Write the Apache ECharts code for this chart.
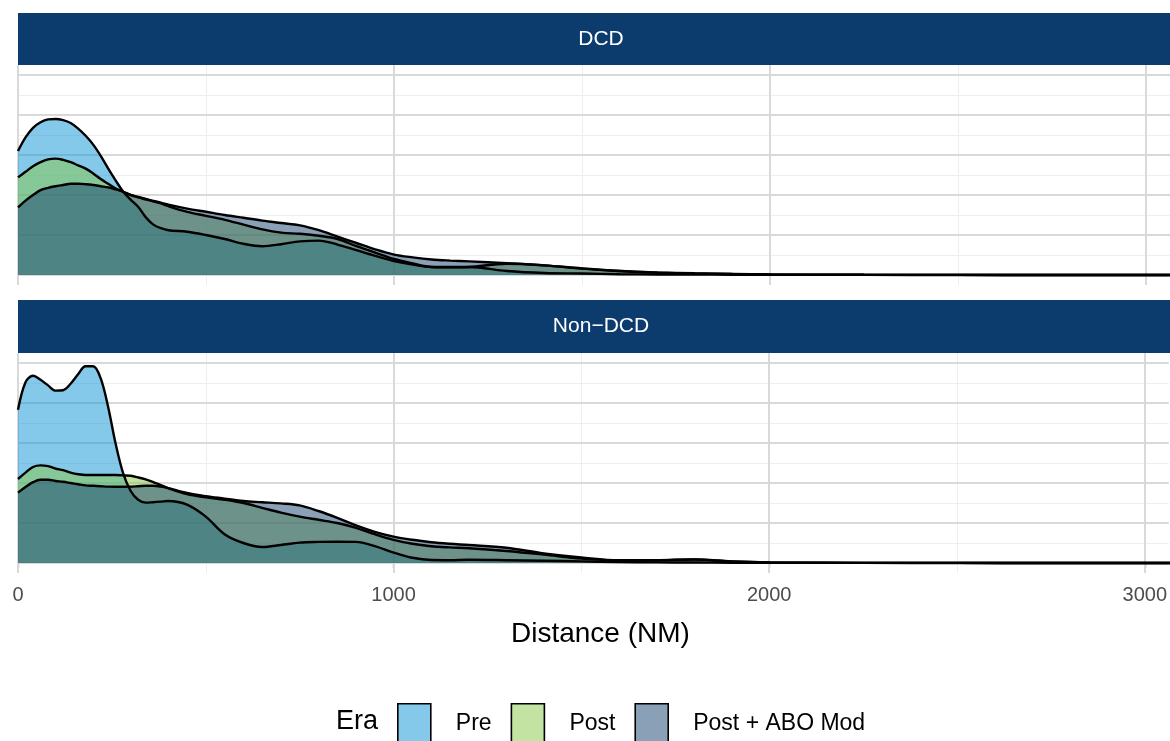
<!DOCTYPE html>
<html>
<head>
<meta charset="utf-8">
<title>Distance (NM) by Era</title>
<script src="https://cdn.jsdelivr.net/npm/echarts@6/dist/echarts.min.js"></script>
<style>
  html, body { margin: 0; padding: 0; background: #ffffff; }
  #chart { width: 1170px; height: 741px; }
</style>
</head>
<body>
<div id="chart"></div>
<script>
// Estimated kernel densities of travel distance, in density per 1000 NM
const distance = [0, 20, 40, 60, 80, 100, 120, 140, 160, 180, 200, 220, 240, 260, 280, 300, 320, 340, 360, 380, 400,
  450, 500, 550, 600, 650, 700, 750, 800, 850, 900, 950, 1000, 1050, 1100, 1150, 1200,
  1300, 1400, 1500, 1600, 1700, 1800, 1900, 2000,
  2250, 2500, 2750, 3000, 3110];

const eras = ['Pre', 'Post', 'Post + ABO Mod'];
const facets = ['DCD', 'Non\u2212DCD'];

const dcdPre = [1.55, 1.72, 1.84, 1.91, 1.945, 1.95, 1.935, 1.90, 1.83, 1.74, 1.63, 1.49, 1.33, 1.18, 1.04, 0.94, 0.85, 0.72, 0.63, 0.585, 0.56,
  0.54, 0.50, 0.45, 0.39, 0.36, 0.385, 0.42, 0.43, 0.38, 0.31, 0.24, 0.175, 0.13, 0.10, 0.10, 0.10,
  0.05, 0.025, 0.018, 0.01, 0.007, 0.005, 0.004, 0.003,
  0.001, 0.0005, 0, 0, 0];
const dcdPost = [1.22, 1.29, 1.36, 1.41, 1.445, 1.455, 1.44, 1.41, 1.37, 1.33, 1.27, 1.20, 1.14, 1.08, 1.04, 1.00, 0.97, 0.945, 0.92, 0.895, 0.86,
  0.79, 0.74, 0.69, 0.63, 0.57, 0.53, 0.515, 0.49, 0.45, 0.36, 0.28, 0.20, 0.145, 0.10, 0.095, 0.10,
  0.14, 0.12, 0.08, 0.05, 0.03, 0.02, 0.012, 0.008,
  0.003, 0.001, 0.0005, 0, 0];
const dcdAbo = [0.845, 0.93, 1.00, 1.06, 1.09, 1.11, 1.125, 1.14, 1.14, 1.135, 1.125, 1.11, 1.095, 1.07, 1.04, 1.00, 0.975, 0.95, 0.925, 0.905, 0.88,
  0.83, 0.79, 0.75, 0.715, 0.68, 0.65, 0.62, 0.56, 0.48, 0.40, 0.32, 0.255, 0.22, 0.194, 0.18, 0.17,
  0.148, 0.12, 0.083, 0.05, 0.032, 0.021, 0.013, 0.008,
  0.003, 0.001, 0.0005, 0, 0];

const nonDcdPre = [1.915, 2.26, 2.34, 2.29, 2.22, 2.155, 2.16, 2.24, 2.36, 2.46, 2.46, 2.31, 1.95, 1.49, 1.12, 0.90, 0.79, 0.755, 0.76, 0.767, 0.775,
  0.73, 0.58, 0.36, 0.25, 0.20, 0.225, 0.255, 0.264, 0.266, 0.264, 0.21, 0.13, 0.065, 0.037, 0.035, 0.04,
  0.035, 0.028, 0.02, 0.012, 0.008, 0.006, 0.004, 0.003,
  0.001, 0.0005, 0, 0, 0];
const nonDcdPost = [1.05, 1.13, 1.20, 1.22, 1.21, 1.18, 1.16, 1.13, 1.11, 1.10, 1.10, 1.10, 1.10, 1.10, 1.095, 1.09, 1.07, 1.045, 1.01, 0.975, 0.935,
  0.86, 0.82, 0.79, 0.75, 0.69, 0.63, 0.58, 0.54, 0.50, 0.44, 0.36, 0.29, 0.24, 0.21, 0.195, 0.185,
  0.15, 0.105, 0.055, 0.033, 0.035, 0.044, 0.02, 0.008,
  0.002, 0.001, 0, 0, 0];
const nonDcdAbo = [0.88, 0.95, 1.01, 1.04, 1.04, 1.025, 1.015, 1.00, 0.985, 0.97, 0.965, 0.96, 0.955, 0.953, 0.953, 0.955, 0.96, 0.965, 0.965, 0.955, 0.935,
  0.875, 0.835, 0.805, 0.775, 0.76, 0.745, 0.72, 0.65, 0.565, 0.47, 0.39, 0.33, 0.29, 0.26, 0.24, 0.225,
  0.19, 0.12, 0.07, 0.035, 0.035, 0.045, 0.018, 0.008,
  0.002, 0.001, 0, 0, 0];

// Axis breaks
const xMajor = [0, 1000, 2000, 3000];
const xMinor = [500, 1500, 2500];
const yMajor = [0, 0.5, 1, 1.5, 2, 2.5];
const yMinor = [0.25, 0.75, 1.25, 1.75, 2.25];

const panelValues = [[dcdPre, dcdPost, dcdAbo], [nonDcdPre, nonDcdPost, nonDcdAbo]];

const eraColors = ['#0a93d4', '#87c747', '#16416f'];
const fillOpacity = 0.5;
const FONT = '"Liberation Sans", Arial, Helvetica, sans-serif';

function hexToRgba(hex, a) {
  const n = parseInt(hex.slice(1), 16);
  return 'rgba(' + ((n >> 16) & 255) + ',' + ((n >> 8) & 255) + ',' + (n & 255) + ',' + a + ')';
}

function gridLines() {
  const major = { color: '#d9d9d9', width: 2, type: 'solid' };
  const minor = { color: '#eeeeee', width: 1, type: 'solid' };
  const out = [];
  yMinor.forEach(v => out.push({ yAxis: v, lineStyle: minor }));
  xMinor.forEach(v => out.push({ xAxis: v, lineStyle: minor }));
  yMajor.forEach(v => out.push({ yAxis: v, lineStyle: major }));
  xMajor.forEach(v => out.push({ xAxis: v, lineStyle: major }));
  return out;
}

const series = [];
panelValues.forEach((vals, g) => {
  vals.forEach((ys, k) => {
    const s = {
      type: 'line',
      name: eras[k],
      xAxisIndex: g,
      yAxisIndex: g,
      data: distance.map((d, i) => [d, ys[i]]),
      smooth: 0.35,
      symbol: 'none',
      showSymbol: false,
      lineStyle: { color: '#000000', width: 2.4 },
      itemStyle: { color: eraColors[k] },
      areaStyle: { color: eraColors[k], opacity: fillOpacity },
      emphasis: { disabled: true },
      silent: true
    };
    if (k === 0) {
      s.markLine = {
        z: 1,
        silent: true,
        symbol: 'none',
        label: { show: false },
        animation: false,
        data: gridLines()
      };
    }
    series.push(s);
  });
});

const xBase = {
  type: 'value', min: 0, max: 3064, interval: 1000,
  axisLine: { show: false }, splitLine: { show: false }
};
const yBase = {
  type: 'value', min: -0.125, max: 2.625, show: false, splitLine: { show: false }
};

const option = {
  animation: false,
  backgroundColor: '#ffffff',
  grid: [
    { left: 18, right: 0, top: 65, height: 220 },
    { left: 18, right: 0, top: 353, height: 220 }
  ],
  xAxis: [
    Object.assign({}, xBase, { gridIndex: 0, axisTick: { show: false }, axisLabel: { show: false } }),
    Object.assign({}, xBase, {
      gridIndex: 1,
      axisTick: { show: true, length: 5, lineStyle: { color: '#333333', width: 1.2 } },
      axisLabel: {
        show: true, color: '#4d4d4d', fontSize: 20, fontFamily: FONT, margin: 12,
        formatter: v => String(v)
      },
      name: 'Distance (NM)',
      nameLocation: 'middle',
      nameGap: 47,
      nameTextStyle: { color: '#000000', fontSize: 28, fontFamily: FONT, padding: [0, 0, 0, 14] }
    })
  ],
  yAxis: [
    Object.assign({}, yBase, { gridIndex: 0 }),
    Object.assign({}, yBase, { gridIndex: 1 })
  ],
  legend: {
    left: 397,
    top: 703,
    icon: 'rect',
    itemWidth: 33,
    itemHeight: 40,
    itemGap: 19,
    padding: 0,
    selectedMode: false,
    textStyle: { color: '#000000', fontSize: 23, fontFamily: FONT, padding: [0, 0, 0, 20] },
    data: eras.map((e, k) => ({
      name: e,
      icon: 'rect',
      itemStyle: { color: hexToRgba(eraColors[k], fillOpacity), borderColor: '#000000', borderWidth: 1.6 }
    }))
  },
  graphic: [
    { type: 'rect', shape: { x: 18, y: 13, width: 1166, height: 52 }, style: { fill: '#0b3c6d' }, silent: true },
    { type: 'text', x: 601, y: 39, style: { text: facets[0], fill: '#ffffff', fontSize: 21, fontFamily: FONT, align: 'center', verticalAlign: 'middle' }, silent: true },
    { type: 'rect', shape: { x: 18, y: 300, width: 1166, height: 53 }, style: { fill: '#0b3c6d' }, silent: true },
    { type: 'text', x: 601, y: 326, style: { text: facets[1], fill: '#ffffff', fontSize: 21, fontFamily: FONT, align: 'center', verticalAlign: 'middle' }, silent: true },
    { type: 'text', x: 336, y: 722, style: { text: 'Era', fill: '#000000', fontSize: 27, fontFamily: FONT, align: 'left', verticalAlign: 'middle' }, silent: true }
  ],
  series: series
};

const chart = echarts.init(document.getElementById('chart'), null, { renderer: 'canvas' });
chart.setOption(option);
</script>
</body>
</html>
